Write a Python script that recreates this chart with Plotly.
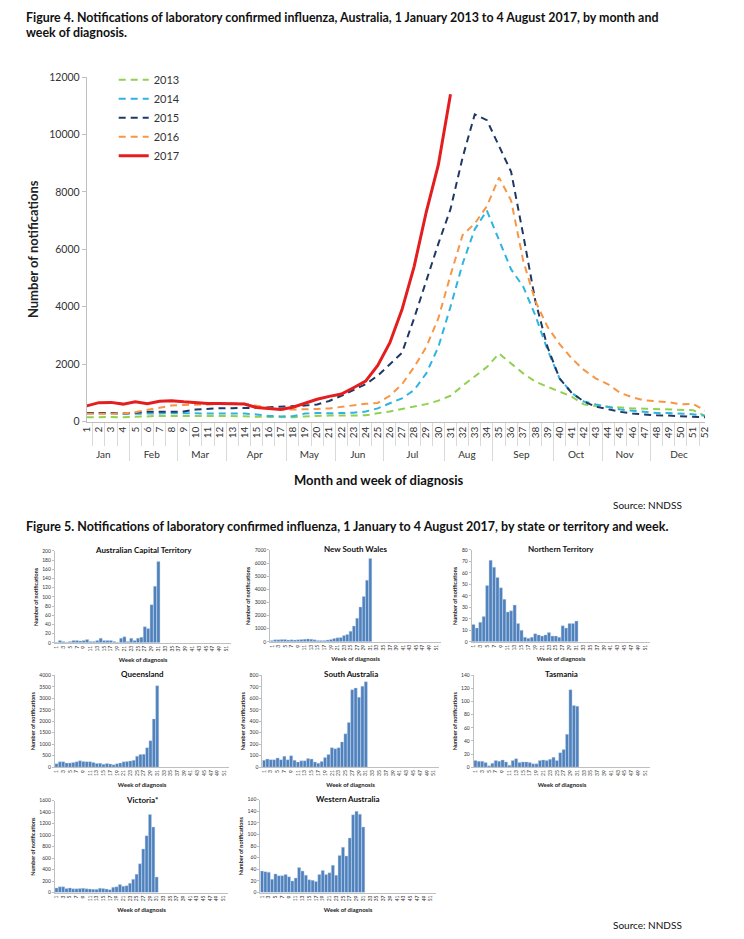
import plotly.graph_objects as go

# page size in px
W, H = 744, 939
FONT = "Lato, Open Sans, sans-serif"

# ---- Figure 4 data: weekly notifications by year ----
months = ["Jan", "Feb", "Mar", "Apr", "May", "Jun", "Jul", "Aug", "Sep", "Oct", "Nov", "Dec"]
weeks_in_month = [4, 4, 4, 5, 4, 4, 5, 4, 5, 4, 4, 5]
weeks = [str(w) for w in range(1, 53)]

y2013 = [150, 160, 160, 150, 170, 190, 200, 200, 200, 210, 210, 200, 190, 190, 170, 160, 150, 150, 180, 200,
         210, 210, 210, 220, 290, 350, 440, 520, 610, 730, 900, 1250, 1560, 1900, 2370, 2020, 1680, 1390, 1210,
         1040, 870, 600, 540, 520, 480, 460, 450, 440, 430, 420, 400, 200]
y2014 = [290, 300, 290, 270, 280, 290, 290, 290, 290, 290, 290, 280, 280, 280, 250, 200, 180, 190, 280, 300,
         290, 290, 310, 350, 460, 640, 810, 1100, 1680, 2600, 4000, 5500, 6700, 7350, 6300, 5300, 4700, 3700,
         2500, 1500, 1000, 700, 600, 500, 420, 380, 330, 300, 300, 280, 260, 200]
y2015 = [300, 310, 300, 280, 320, 340, 340, 340, 350, 420, 450, 470, 470, 470, 480, 500, 520, 520, 560, 600,
         720, 900, 1100, 1300, 1600, 2000, 2400, 3600, 4900, 6200, 7400, 9200, 10700, 10500, 9600, 8700, 6500,
         4200, 2600, 1500, 1000, 700, 520, 420, 340, 280, 240, 220, 210, 190, 160, 150]
y2016 = [270, 270, 260, 280, 330, 400, 480, 560, 580, 580, 600, 620, 640, 620, 560, 480, 420, 420, 420, 440,
         460, 520, 560, 620, 650, 900, 1300, 1900, 2600, 3600, 5100, 6500, 6900, 7500, 8500, 7700, 5600, 4200,
         3300, 2700, 2200, 1800, 1500, 1300, 1000, 850, 740, 700, 680, 600, 620, 380]
y2017 = [550, 660, 670, 610, 690, 620, 710, 730, 690, 650, 630, 630, 630, 610, 490, 460, 420, 500, 630, 780,
         880, 960, 1180, 1410, 1960, 2750, 3900, 5400, 7300, 8950, 11400]

years = ["2013", "2014", "2015", "2016", "2017"]
year_colors = ["#92D050", "#2FB3E0", "#1F3864", "#F79646", "#E41E1E"]

# ---- Figure 5 data: 2017 weekly notifications by state (weeks 1-31) ----
states = ["Australian Capital Territory", "New South Wales", "Northern Territory",
          "Queensland", "South Australia", "Tasmania", "Victoria*", "Western Australia"]
act = [1, 5, 3, 1, 3, 5, 5, 4, 5, 7, 3, 3, 5, 10, 5, 5, 5, 3, 1, 10, 13, 3, 10, 5, 10, 12, 35, 31, 83, 123, 177]
nsw = [100, 150, 150, 180, 180, 130, 150, 130, 150, 170, 200, 220, 200, 150, 100, 100, 100, 130, 180, 250,
       300, 320, 480, 560, 800, 1200, 1800, 2650, 3450, 4700, 6350]
nt = [15, 12, 17, 22, 49, 71, 65, 56, 47, 37, 26, 27, 32, 16, 10, 4, 3, 4, 7, 6, 5, 6, 8, 5, 5, 4, 14, 12, 16, 16, 18]
qld = [150, 230, 240, 180, 180, 200, 230, 280, 250, 240, 240, 200, 160, 170, 130, 160, 140, 100, 150, 180,
       230, 250, 270, 300, 480, 550, 560, 850, 1150, 2100, 3550]
sa = [60, 70, 65, 65, 80, 65, 95, 65, 100, 60, 45, 55, 55, 75, 70, 45, 35, 50, 85, 110, 170, 160, 170, 220,
      290, 390, 675, 690, 610, 705, 745]
tas = [10, 9, 9, 7, 2, 6, 10, 9, 11, 8, 3, 10, 13, 7, 8, 8, 7, 5, 5, 10, 11, 10, 12, 15, 10, 22, 27, 50, 118, 94, 93]
vic = [80, 100, 100, 70, 80, 65, 65, 70, 75, 65, 60, 55, 55, 75, 70, 60, 50, 90, 100, 140, 110, 120, 160, 230,
       320, 500, 760, 990, 1360, 1140, 270]
wa = [37, 36, 35, 23, 32, 29, 29, 31, 27, 20, 25, 43, 37, 30, 22, 21, 19, 31, 38, 31, 34, 47, 30, 64, 78, 63,
      94, 134, 140, 135, 113]
state_values = [act, nsw, nt, qld, sa, tas, vic, wa]
state_ymax = [200, 7000, 80, 4000, 800, 140, 1600, 160]
state_dtick = [20, 1000, 10, 500, 100, 20, 200, 20]
state_weeks = list(range(1, 53))
odd_weeks = list(range(1, 52, 2))


def xd(a, b):
    return [a / W, b / W]


def yd(top, bottom):
    return [1 - bottom / H, 1 - top / H]


def note(text, x, y, size, bold=False, **kw):
    # text placed in page pixels
    return dict(text=text, x=x / W, y=1 - y / H, xref="paper", yref="paper", showarrow=False,
                font=dict(size=size, weight="bold" if bold else "normal", color="#111"), **kw)


week_month = [m for m, n in zip(months, weeks_in_month) for _ in range(n)]

fig = go.Figure()

for name, col, vals in zip(years, year_colors, [y2013, y2014, y2015, y2016, y2017]):
    solid = name == "2017"
    fig.add_trace(go.Scatter(
        x=[week_month[:len(vals)], weeks[:len(vals)]], y=vals, mode="lines", name=name,
        line=dict(color=col, width=3 if solid else 2, dash="solid" if solid else "7px,5px"),
        xaxis="x", yaxis="y",
    ))

layout = dict(
    width=W, height=H, margin=dict(l=0, r=0, t=0, b=0),
    paper_bgcolor="white", plot_bgcolor="white",
    font=dict(family=FONT, color="#222"),
    bargap=0.08,
    legend=dict(x=112 / W, y=1 - 60 / H, xanchor="left", yanchor="top", bgcolor="rgba(0,0,0,0)",
                font=dict(size=11, color="#333"), itemwidth=30, tracegroupgap=0),
    xaxis=dict(domain=xd(85, 705), type="multicategory", showline=True, linecolor="#bfbfbf",
               ticks="outside", ticklen=23, tickcolor="#d9d9d9", tickson="boundaries",
               showdividers=True, dividercolor="#d9d9d9", dividerwidth=1,
               tickangle=-90, tickfont=dict(size=10, color="#333"), showgrid=False),
    yaxis=dict(domain=yd(72, 421), range=[0, 12000], dtick=2000, tickformat="d", showline=True,
               linecolor="#bfbfbf", ticks="outside", ticklen=4, tickcolor="#bfbfbf", showgrid=False,
               zeroline=False, tickfont=dict(size=10.5, color="#333"),
               title=dict(text="Number of notifications", font=dict(size=13, weight="bold"), standoff=7)),
)

# small multiples placement (px): left, right, top, bottom
panels = [(53, 230, 552, 645), (269, 440, 551, 644), (471, 650, 551, 644),
          (53, 228, 678, 771), (261, 438, 678, 771), (473, 650, 678, 771),
          (53, 227, 805, 898), (259, 435, 804, 898)]

annotations = [
    note("Figure 4. Notifications of laboratory confirmed influenza, Australia, 1 January 2013 to 4 August 2017, by month and",
         22, 12, 12.4, True, xanchor="left", yanchor="middle"),
    note("week of diagnosis.", 22, 27, 12.4, True, xanchor="left", yanchor="middle"),
    note("Month and week of diagnosis", 378, 480, 13, True, xanchor="center", yanchor="middle"),
    note("Source: NNDSS", 684, 505, 10, xanchor="right", yanchor="middle"),
    note("Figure 5. Notifications of laboratory confirmed influenza, 1 January to 4 August 2017, by state or territory and week.",
         22, 527, 12.5, True, xanchor="left", yanchor="middle"),
    note("Source: NNDSS", 684, 939, 10, xanchor="right", yanchor="bottom"),
]

for i, (name, vals, ymax, dt, pos) in enumerate(zip(states, state_values, state_ymax, state_dtick, panels)):
    n = i + 2
    l, r, t, b = pos
    fig.add_trace(go.Bar(x=state_weeks[:len(vals)], y=vals,
                         marker=dict(color="#4F81BD", line=dict(width=0.4, color="#c6d6ea")),
                         showlegend=False, xaxis=f"x{n}", yaxis=f"y{n}"))
    layout[f"xaxis{n}"] = dict(domain=xd(l, r), anchor=f"y{n}", range=[0.5, 52.5], tickmode="array",
                               tickvals=odd_weeks, ticktext=[str(w) for w in odd_weeks], tickangle=-90,
                               tickfont=dict(size=5, color="#333"), showline=True, linecolor="#bfbfbf",
                               showgrid=False, zeroline=False, ticks="",
                               title=dict(text="Week of diagnosis", font=dict(size=6, weight="bold"), standoff=7))
    layout[f"yaxis{n}"] = dict(domain=yd(t, b), anchor=f"x{n}", range=[0, ymax], dtick=dt, tickformat="d",
                               showline=True, linecolor="#bfbfbf", showgrid=False, zeroline=False,
                               ticks="outside", ticklen=2, tickcolor="#bfbfbf",
                               tickfont=dict(size=5, color="#333"),
                               title=dict(text="Number of notifications", font=dict(size=5.5, weight="bold"),
                                          standoff=3))
    annotations.append(note(name, (l + r) / 2, t - 1, 8, True, xanchor="center", yanchor="middle"))

layout["annotations"] = annotations
fig.update_layout(**layout)

# drop the browser's default body margin so page pixels line up
fig.write_html("out.html", config={"displayModeBar": False},
               post_script="document.body.style.margin='0';")
